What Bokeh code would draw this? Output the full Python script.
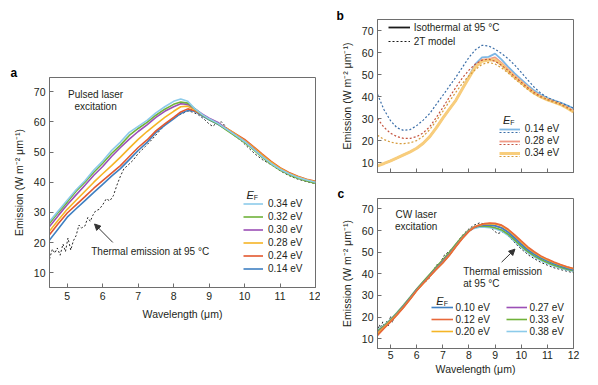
from bokeh.plotting import figure
from bokeh.layouts import row, column
from bokeh.models import Legend, LegendItem, Label, Arrow, NormalHead
from bokeh.embed import file_html
from bokeh.resources import INLINE

FONT = "Liberation Sans"
TXT = "#231f20"
AX = "#6e6e6e"
NAN = float("nan")

# ---------------- Panel a data ----------------
wl_a = [4.5, 4.75, 5.0, 5.25, 5.5, 5.75, 6.0, 6.25, 6.5, 6.75, 7.0, 7.25, 7.5, 7.75, 8.0, 8.2,
        8.4, 8.6, 8.8, 9.0, 9.25, 9.5, 9.75, 10.0, 10.25, 10.5, 10.75, 11.0, 11.25, 11.5, 11.75, 12.0]
a_034 = [27.0, 30.5, 34.0, 37.5, 40.5, 44.0, 47.0, 50.5, 53.3, 56.5, 58.5, 60.5, 63.0, 65.0, 66.8, 67.6,
         66.8, 64.3, 62.5, 61.0, 59.5, 57.5, 55.5, 53.5, 51.0, 48.5, 46.2, 44.3, 42.8, 41.6, 40.7, 40.0]
a_032 = [26.3, 30.0, 33.4, 37.0, 40.0, 43.3, 46.3, 49.5, 52.3, 55.5, 57.8, 59.8, 62.2, 64.2, 65.8, 66.6,
         66.2, 64.3, 62.3, 60.8, 59.3, 57.2, 55.2, 53.2, 50.8, 48.2, 45.9, 44.0, 42.5, 41.3, 40.4, 39.7]
a_030 = [25.3, 29.0, 32.5, 35.8, 39.0, 42.3, 45.2, 48.5, 51.5, 54.3, 56.8, 59.0, 61.5, 63.5, 65.0, 66.0,
         65.8, 64.3, 62.6, 61.2, 59.8, 57.6, 55.5, 53.5, 51.1, 48.5, 46.1, 44.2, 42.7, 41.5, 40.5, 39.9]
a_028 = [23.8, 27.5, 31.0, 34.0, 37.0, 40.0, 42.8, 45.5, 48.3, 51.3, 54.2, 56.8, 59.2, 61.5, 63.5, 65.0,
         65.2, 64.0, 62.4, 61.0, 59.6, 57.8, 55.8, 53.8, 51.5, 49.0, 46.6, 44.6, 43.0, 41.8, 40.8, 40.1]
a_024 = [22.6, 26.3, 29.8, 32.5, 35.2, 38.0, 40.5, 43.0, 45.5, 48.5, 51.5, 54.0, 57.0, 59.3, 61.5, 63.3,
         64.3, 63.7, 62.3, 61.0, 59.5, 57.8, 56.0, 54.2, 51.8, 49.3, 46.9, 44.8, 43.2, 42.0, 41.0, 40.3]
a_014 = [20.8, 24.6, 28.4, 31.2, 33.9, 36.6, 39.3, 42.0, 44.5, 47.5, 50.5, 53.2, 56.5, 58.8, 61.0, 62.8,
         63.8, 63.5, 62.0, 60.7, 59.2, 57.4, 55.4, 53.5, 51.0, 48.5, 46.2, 44.2, 42.7, 41.5, 40.6, 39.9]
wl_a_th = [4.5, 4.58, 4.65, 4.72, 4.8, 4.88, 4.95, 5.02, 5.1, 5.17, 5.25, 5.33, 5.4, 5.5, 5.58, 5.65,
           5.72, 5.8, 5.9, 6.0, 6.1, 6.2, 6.3, 6.4, 6.5, 6.6, 6.7, 6.85, 7.0, 7.2, 7.4, 7.6, 7.8, 8.0,
           8.2, 8.4, 8.55, 8.7, 8.85, 9.0, 9.1, 9.2, 9.35, 9.5, 9.7, 9.9, 10.1, 10.3, 10.5, 10.75,
           11.0, 11.25, 11.5, 11.75, 12.0]
a_thermal = [14.5, 17.8, 16.5, 18.2, 15.8, 19.5, 17.0, 21.5, 17.5, 20.5, 22.3, 25.8, 24.8, 25.5, 28.3, 27.0,
             29.0, 30.5, 31.0, 32.5, 34.5, 33.8, 35.5, 39.0, 42.0, 44.5, 45.5, 47.2, 49.5, 51.8, 54.3, 57.0,
             59.5, 61.3, 62.5, 63.6, 63.2, 62.3, 61.0, 59.3, 58.5, 59.5, 60.0, 58.0, 55.5, 53.8, 51.5, 49.3,
             47.5, 45.8, 43.8, 42.2, 41.0, 40.2, 39.5]
a_labels = ["0.34 eV", "0.32 eV", "0.30 eV", "0.28 eV", "0.24 eV", "0.14 eV"]

# ---------------- Panel b data ----------------
wl_b = [4.5, 4.75, 5.0, 5.25, 5.5, 5.75, 6.0, 6.25, 6.5, 6.75, 7.0, 7.25, 7.5, 7.75, 8.0, 8.25, 8.5,
        8.75, 9.0, 9.25, 9.5, 9.75, 10.0, 10.25, 10.5, 10.75, 11.0, 11.25, 11.5, 11.75, 12.0]
b_iso_014 = [8.5, 9.6, 10.8, 12.1, 13.5, 14.9, 16.5, 18.8, 21.8, 25.8, 30.2, 34.3, 38.3, 43.8, 49.3, 54.8,
             57.8, 58.0, 59.5, 56.8, 53.5, 50.5, 47.8, 45.2, 42.7, 40.8, 39.3, 38.3, 37.3, 36.0, 34.7]
b_iso_028 = [8.5, 9.6, 10.8, 12.1, 13.5, 14.9, 16.5, 18.8, 21.8, 25.8, 30.2, 34.3, 38.3, 43.5, 48.8, 54.0,
             56.8, 57.0, 57.8, 55.3, 52.3, 49.5, 47.0, 44.4, 42.0, 40.2, 38.8, 37.8, 36.7, 35.2, 33.5]
b_iso_034 = [8.5, 9.6, 10.8, 12.1, 13.5, 14.9, 16.5, 18.8, 21.8, 25.8, 30.2, 34.3, 38.3, 43.5, 48.5, 53.5,
             56.0, 56.6, 56.6, 54.5, 51.5, 48.8, 46.3, 43.8, 41.5, 39.8, 38.5, 37.5, 36.4, 34.8, 33.0]
b_2t_014 = [41.0, 34.0, 29.0, 25.8, 24.6, 25.0, 26.8, 29.3, 32.3, 36.5, 40.5, 44.7, 48.8, 53.3, 57.8, 61.3,
            63.3, 63.0, 61.5, 59.5, 57.2, 54.3, 51.0, 47.5, 44.2, 41.5, 39.6, 38.3, 37.2, 36.0, 34.7]
b_2t_028 = [30.0, 26.0, 23.3, 21.8, 21.0, 21.0, 21.8, 23.5, 26.3, 30.5, 35.0, 39.7, 44.2, 48.5, 52.0, 54.8,
            56.5, 57.0, 56.0, 54.2, 51.8, 49.0, 46.5, 44.0, 41.8, 40.0, 38.7, 37.7, 36.6, 35.1, 33.4]
b_2t_034 = [22.4, 20.5, 19.3, 18.7, 18.6, 19.0, 20.0, 22.0, 25.0, 29.0, 33.3, 37.8, 42.0, 46.0, 49.5, 52.3,
            54.6, 55.5, 54.8, 53.0, 50.7, 48.0, 45.6, 43.2, 41.2, 39.6, 38.4, 37.4, 36.3, 34.8, 33.0]
b_labels = ["0.14 eV", "0.28 eV", "0.34 eV"]
b_style_labels = ["Isothermal at 95 \u00b0C", "2T model"]

# ---------------- Panel c data ----------------
wl_c = wl_a
c_010 = [12.0, 15.0, 18.0, 21.3, 24.8, 28.5, 32.5, 35.8, 39.0, 42.3, 45.3, 48.8, 52.8, 56.6, 59.8, 61.5,
         62.3, 62.6, 62.6, 62.2, 61.2, 59.2, 56.5, 53.6, 51.0, 49.0, 47.3, 45.9, 44.7, 43.6, 42.6, 41.8]
c_012 = [11.5, 14.8, 17.8, 21.0, 24.5, 28.2, 32.2, 35.5, 38.8, 42.0, 45.0, 48.5, 52.5, 56.3, 59.6, 61.5,
         62.6, 63.2, 63.5, 63.3, 62.5, 60.6, 58.0, 55.2, 52.5, 50.2, 48.3, 46.8, 45.5, 44.3, 43.3, 42.5]
c_020 = [12.5, 15.3, 18.2, 21.3, 24.7, 28.4, 32.3, 35.6, 38.9, 42.2, 45.2, 48.7, 52.7, 56.5, 59.7, 61.6,
         62.5, 63.0, 63.2, 63.0, 62.2, 60.2, 57.6, 54.8, 52.0, 49.8, 48.0, 46.5, 45.2, 44.1, 43.1, 42.3]
c_027 = [13.0, 15.5, 18.3, 21.5, 25.0, 28.7, 32.6, 35.9, 39.2, 42.6, 45.8, 49.2, 53.1, 56.8, 59.9, 61.5,
         62.3, 62.5, 62.5, 62.2, 61.3, 59.4, 56.8, 54.0, 51.4, 49.3, 47.5, 46.0, 44.8, 43.7, 42.7, 41.9]
c_033 = [13.5, 16.0, 18.8, 22.0, 25.5, 29.2, 33.0, 36.4, 39.8, 43.2, 46.5, 50.0, 53.8, 57.3, 60.2, 61.5,
         62.0, 62.0, 61.8, 61.3, 60.3, 58.3, 55.6, 52.8, 50.3, 48.3, 46.6, 45.2, 44.0, 43.0, 42.1, 41.4]
c_038 = [14.0, 16.3, 19.0, 22.2, 25.7, 29.3, 33.0, 36.3, 39.7, 43.0, 46.2, 49.7, 53.5, 57.0, 59.8, 61.0,
         61.5, 61.5, 61.3, 60.8, 59.7, 57.7, 55.0, 52.2, 49.8, 47.8, 46.2, 44.8, 43.6, 42.6, 41.8, 41.2]
wl_c_th = [4.5, 4.57, 4.63, 4.7, 4.77, 4.85, 4.92, 5.0, 5.07, 5.15, 5.25, 5.4, 5.55, 5.7, 5.85, 6.0,
           6.15, 6.3, 6.45, 6.6, 6.75, 6.9, 7.05, 7.2, 7.4, 7.6, 7.8, 8.0, 8.2, 8.4, 8.6, 8.8, 9.0, 9.1,
           9.2, 9.35, 9.5, 9.7, 9.9, 10.1, 10.3, 10.5, 10.75, 11.0, 11.25, 11.5, 11.75, 12.0]
c_thermal = [13.0, 16.5, 15.0, 17.8, 15.5, 18.0, 16.0, 20.5, 17.5, 21.0, 21.5, 24.0, 26.0, 28.8, 30.5, 33.0,
             34.5, 36.0, 37.5, 40.5, 44.0, 45.0, 48.5, 50.0, 52.0, 55.5, 58.5, 60.8, 62.5, 63.5, 63.0, 61.8,
             59.5, 58.6, 59.0, 59.5, 57.5, 55.0, 52.5, 50.5, 48.5, 47.0, 45.3, 44.0, 42.8, 42.0, 41.2, 40.5]
c_labels_1 = ["0.10 eV", "0.12 eV", "0.20 eV"]
c_labels_2 = ["0.27 eV", "0.33 eV", "0.38 eV"]

x_ticks = [5, 6, 7, 8, 9, 10, 11, 12]
y_ticks = [10, 20, 30, 40, 50, 60, 70]

C_LB, C_G, C_P, C_Y, C_R, C_B = "#8ccbea", "#70b23a", "#9b4fb6", "#f5b526", "#e3582f", "#3f80c2"
YLABEL = "Emission (W m\u207b\u00b2 \u03bcm\u207b\u00b9)"
DASH = "2 2"


def style(p, panel, offset, standoff):
    p.xgrid.visible = False
    p.ygrid.visible = False
    p.outline_line_color = AX
    p.outline_line_width = 1
    p.background_fill_color = "white"
    p.border_fill_color = "white"
    for ax in (p.xaxis[0], p.yaxis[0]):
        ax.axis_line_color = AX
        ax.major_tick_line_color = AX
        ax.major_tick_in = 4
        ax.major_tick_out = 0
        ax.minor_tick_line_color = None
        ax.major_label_text_font = FONT
        ax.major_label_text_font_size = "10.5px"
        ax.major_label_text_color = TXT
        ax.axis_label_text_font = FONT
        ax.axis_label_text_font_size = "10.5px"
        ax.axis_label_text_font_style = "normal"
        ax.axis_label_text_color = TXT
    p.xaxis.ticker = x_ticks
    p.yaxis.ticker = y_ticks
    p.title.text = panel
    p.title.align = "left"
    p.title.offset = offset
    p.title.standoff = standoff
    p.title.text_font = FONT
    p.title.text_font_size = "12px"
    p.title.text_font_style = "bold"
    p.title.text_color = "#000000"


def txt(p, x, y, s, size="10px", align="left", style_="normal", base="middle"):
    p.add_layout(Label(x=x, y=y, text=s, text_font=FONT, text_font_size=size, text_color=TXT,
                       text_align=align, text_baseline=base, text_font_style=style_))


def legend(items, loc, gw=20, lh=12, standoff=5):
    return Legend(items=items, location=loc, glyph_width=gw, glyph_height=lh, label_height=lh,
                  spacing=0, padding=0, margin=0, label_standoff=standoff,
                  label_text_font=FONT, label_text_font_size="10px", label_text_color=TXT,
                  background_fill_alpha=0, border_line_alpha=0)


# ---------------- Panel a ----------------
pa = figure(width=320, height=377, x_range=(4.5, 12), y_range=(5.1, 74.7),
            min_border_left=49, min_border_right=5, min_border_top=77, min_border_bottom=90,
            output_backend="svg", toolbar_location=None)
style(pa, "a", -39, -4)
pa.xaxis.axis_label = "Wavelength (\u03bcm)"
pa.yaxis.axis_label = YLABEL
pa.xaxis.major_label_standoff = 4
pa.xaxis.axis_label_standoff = 5
pa.yaxis.major_label_standoff = 4
pa.yaxis.axis_label_standoff = 6

pa.line(wl_a_th, a_thermal, line_color="#2a2a2a", line_width=1, line_dash=DASH)
ra = []
for ys, col in zip([a_014, a_024, a_028, a_030, a_032, a_034], [C_B, C_R, C_Y, C_P, C_G, C_LB]):
    ra.append(pa.line(wl_a, ys, line_color=col, line_width=1.6))
ra = ra[::-1]
pa.add_layout(legend([LegendItem(label=l, renderers=[r]) for l, r in zip(a_labels, ra)],
                     (194, 12.5), lh=13))
txt(pa, 5.8, 69.2, "Pulsed laser", align="center")
txt(pa, 5.8, 65.0, "excitation", align="center")
txt(pa, 5.676, 16.96, "Thermal emission at 95 \u00b0C")
pa.add_layout(Arrow(end=NormalHead(size=6, fill_color="#333333", line_color="#333333"),
                    x_start=6.285, y_start=20.04, x_end=5.77, y_end=26.14,
                    line_color="#333333", line_width=1))
txt(pa, 10.158, 35.69, "E", size="11px", align="center", style_="italic")
txt(pa, 10.262, 35.03, "F", size="7px", align="left")

# ---------------- Panel b ----------------
pb = figure(width=270, height=187, x_range=(4.5, 12), y_range=(5.5, 75),
            min_border_left=57, min_border_right=17, min_border_top=19, min_border_bottom=15,
            output_backend="svg", toolbar_location=None)
style(pb, "b", -41, -6)
pb.yaxis.axis_label = YLABEL
pb.yaxis.major_label_standoff = 4
pb.yaxis.axis_label_standoff = 6
pb.xaxis.major_label_standoff = 1
pb.xaxis.major_label_overrides = {t: "" for t in x_ticks}

rs_b = pb.line(wl_b, b_iso_014, line_color="#7db7e4", line_width=1.8)
rs_r = pb.line(wl_b, b_iso_028, line_color="#f09a86", line_width=1.8)
rs_y = pb.line(wl_b, b_iso_034, line_color="#f8cd7c", line_width=3)
rd_b = pb.line(wl_b, b_2t_014, line_color="#3b6ea8", line_width=1.2, line_dash=DASH)
rd_r = pb.line(wl_b, b_2t_028, line_color="#c4533e", line_width=1.2, line_dash=DASH)
rd_y = pb.line(wl_b, b_2t_034, line_color="#d69b3b", line_width=1.2, line_dash=DASH)
# legend-only style keys (no data points are drawn)
k_s = pb.line([NAN], [NAN], line_color="#1a1a1a", line_width=1.8)
k_d = pb.line([NAN], [NAN], line_color="#1a1a1a", line_width=1.2, line_dash=DASH)
pb.add_layout(legend([LegendItem(label=b_style_labels[0], renderers=[k_s]),
                      LegendItem(label=b_style_labels[1], renderers=[k_d])],
                     (10.7, 123.6), gw=22, lh=14, standoff=4))
pb.add_layout(legend([LegendItem(label=l, renderers=[r]) for l, r in zip(b_labels, [rs_b, rs_r, rs_y])],
                     (121.7, 13.5), gw=21, standoff=5))
pb.add_layout(legend([LegendItem(label=" ", renderers=[r]) for r in [rd_b, rd_r, rd_y]],
                     (121.7, 10.5), gw=21, standoff=5))
txt(pb, 9.444, 29.5, "E", size="11px", align="center", style_="italic")
txt(pb, 9.582, 28.14, "F", size="7px", align="left")

# ---------------- Panel c ----------------
pc = figure(width=270, height=190, x_range=(4.5, 12), y_range=(5.5, 74.8),
            min_border_left=57, min_border_right=17, min_border_top=8, min_border_bottom=29,
            output_backend="svg", toolbar_location=None)
style(pc, "c", -40, -5)
pc.xaxis.axis_label = "Wavelength (\u03bcm)"
pc.yaxis.axis_label = YLABEL
pc.xaxis.major_label_standoff = 2
pc.xaxis.axis_label_standoff = 1
pc.yaxis.major_label_standoff = 4
pc.yaxis.axis_label_standoff = 6

pc.line(wl_c_th, c_thermal, line_color="#2a2a2a", line_width=1, line_dash=DASH)
rc = {}
for key, ys, col in [("0.38", c_038, C_LB), ("0.33", c_033, C_G), ("0.27", c_027, C_P),
                     ("0.10", c_010, C_B), ("0.20", c_020, C_Y), ("0.12", c_012, "#e8683a")]:
    rc[key] = pc.line(wl_c, ys, line_color=col, line_width=1.6)
pc.add_layout(legend([LegendItem(label=l, renderers=[rc[l[:4]]]) for l in c_labels_1],
                     (54.4, 11), gw=22, lh=12, standoff=2))
pc.add_layout(legend([LegendItem(label=l, renderers=[rc[l[:4]]]) for l in c_labels_2],
                     (129.4, 11), gw=21, lh=12, standoff=2))
txt(pc, 5.98, 67.3, "CW laser", align="center")
txt(pc, 5.98, 62.0, "excitation", align="center")
txt(pc, 7.78, 40.9, "Thermal emission")
txt(pc, 7.78, 35.6, "at 95 \u00b0C")
pc.add_layout(Arrow(end=NormalHead(size=6, fill_color="#333333", line_color="#333333"),
                    x_start=9.25, y_start=45.4, x_end=9.76, y_end=51.4,
                    line_color="#333333", line_width=1))
txt(pc, 6.889, 27.33, "E", size="11px", align="center", style_="italic")
txt(pc, 7.031, 26.1, "F", size="7px", align="left")

layout = row(pa, column(pb, pc))
open("out.html", "w").write(file_html(layout, INLINE))
